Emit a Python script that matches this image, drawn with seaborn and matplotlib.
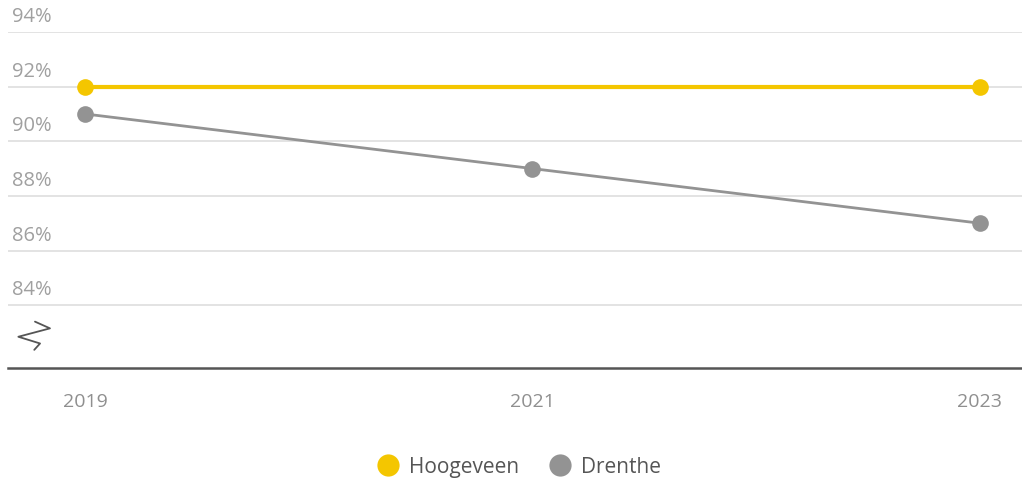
import pandas as pd
import matplotlib.pyplot as plt
import seaborn as sns
from matplotlib.lines import Line2D

# data
hoogeveen_years = [2019, 2023]
hoogeveen_values = [92, 92]
drenthe_years = [2019, 2021, 2023]
drenthe_values = [91, 89, 87]
x_ticks = [2019, 2021, 2023]
y_ticks = [84, 86, 88, 90, 92, 94]

colors = {"Hoogeveen": "#f4c600", "Drenthe": "#939393"}

data = pd.concat([
    pd.DataFrame({"Jaar": hoogeveen_years, "Waarde": hoogeveen_values, "Gebied": "Hoogeveen"}),
    pd.DataFrame({"Jaar": drenthe_years, "Waarde": drenthe_values, "Gebied": "Drenthe"}),
])

sns.set_theme(style="white")
plt.rcParams["font.family"] = ["Open Sans", "DejaVu Sans"]

fig = plt.figure(figsize=(10.22, 4.86), dpi=100)
ax = fig.add_axes([8 / 1022, 1 - 368 / 486, 1 - 8 / 1022, (368 - 32) / 486])

# gridlines under the lines
for t in y_ticks:
    ax.axhline(t, color="#dedede", lw=1.2, zorder=0)

sns.lineplot(data=data[data["Gebied"] == "Drenthe"], x="Jaar", y="Waarde", color=colors["Drenthe"],
             lw=2, marker="o", markersize=12, markeredgewidth=0, ax=ax, zorder=3)
sns.lineplot(data=data[data["Gebied"] == "Hoogeveen"], x="Jaar", y="Waarde", color=colors["Hoogeveen"],
             lw=3, marker="o", markersize=12, markeredgewidth=0, ax=ax, zorder=4)

ax.set_xlim(2018.656, 2023.188)
ax.set_ylim(81.7, 94)
ax.set_xticks(x_ticks)
ax.set_xticklabels([str(x) for x in x_ticks], color="#8f8f8f", fontsize=14)
ax.tick_params(axis="x", length=0, pad=18)
ax.set_yticks([])
ax.set_xlabel("")
ax.set_ylabel("")
for s in ["top", "left", "right"]:
    ax.spines[s].set_visible(False)
ax.spines["bottom"].set_color("#555555")
ax.spines["bottom"].set_linewidth(1.8)

# y labels sit above the gridlines
for t in y_ticks:
    ax.annotate(f"{t}%", xy=(0, t), xycoords=("axes fraction", "data"), xytext=(4, 5),
                textcoords="offset pixels", ha="left", va="bottom", color="#a0a0a0", fontsize=14.5)

# axis break zigzag
ax.plot([0.0266, 0.0414, 0.0102, 0.0316, 0.0259], [0.138, 0.118, 0.093, 0.073, 0.054],
        transform=ax.transAxes, color="#555555", lw=1.3, clip_on=False)

handles = [Line2D([], [], marker="o", ls="", markersize=16, markeredgewidth=0, color=colors[k])
           for k in ["Hoogeveen", "Drenthe"]]
leg = fig.legend(handles, ["Hoogeveen", "Drenthe"], loc="center", bbox_to_anchor=(0.503, 1 - 467 / 486),
                 ncol=2, frameon=False, fontsize=15, handletextpad=0.0, columnspacing=1.0)
for txt in leg.get_texts():
    txt.set_color("#555555")

fig.savefig("out.png", dpi=100)
